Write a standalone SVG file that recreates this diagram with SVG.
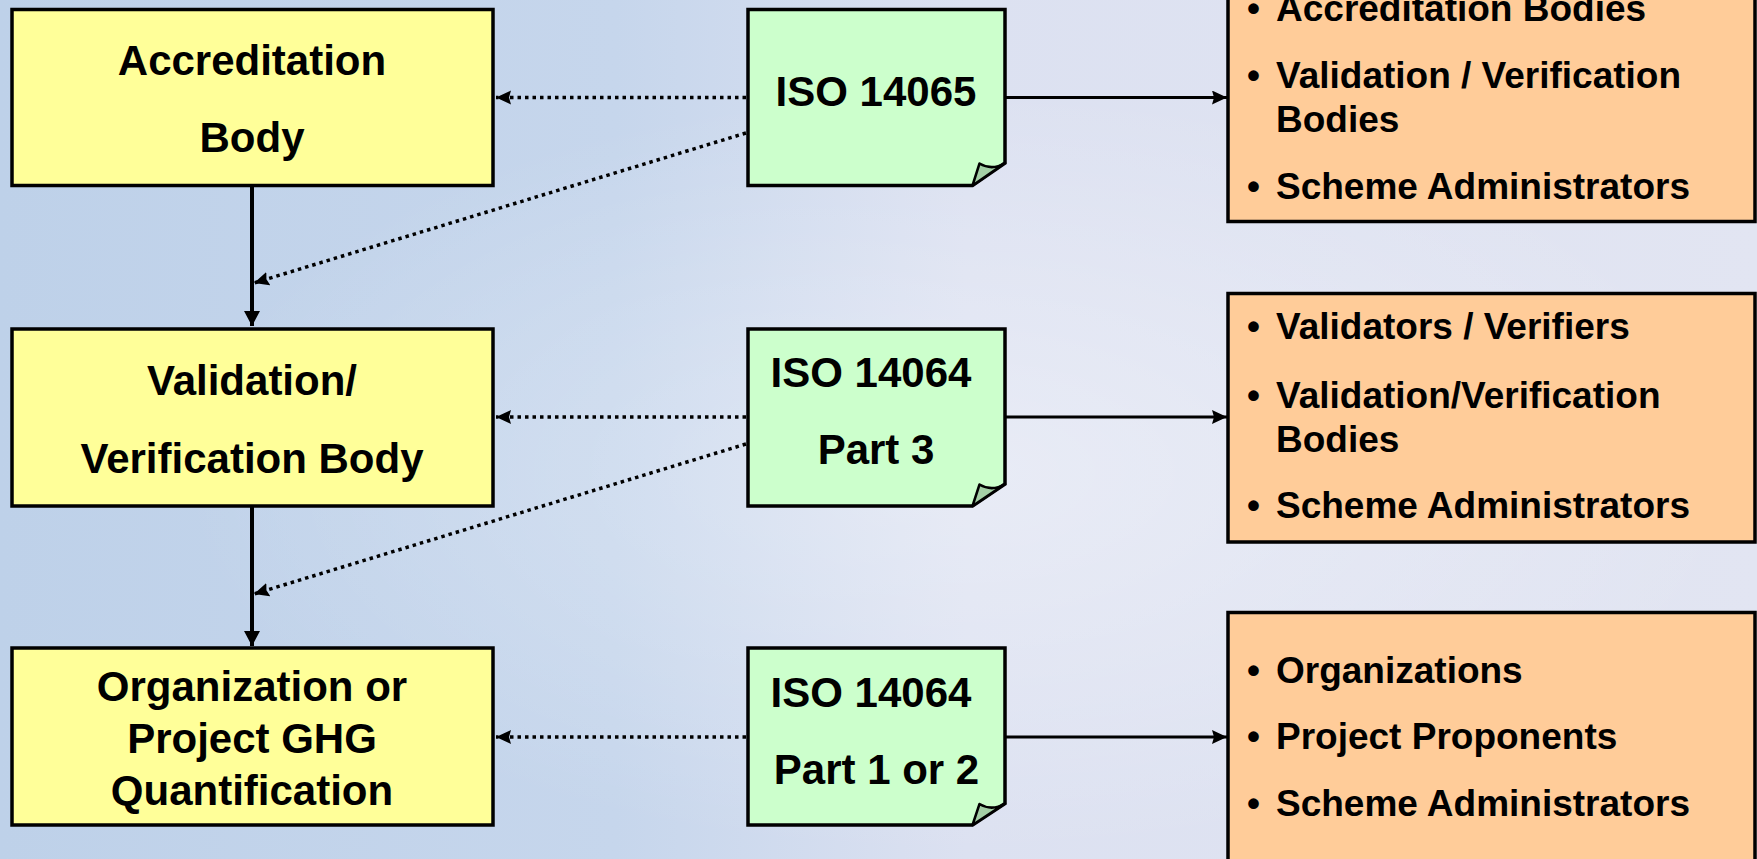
<svg xmlns="http://www.w3.org/2000/svg" width="1757" height="859" viewBox="0 0 1757 859">
<defs>
<linearGradient id="bg" x1="0" y1="0" x2="1" y2="0">
<stop offset="0" stop-color="#BED1E9"/>
<stop offset="0.35" stop-color="#C6D6EC"/>
<stop offset="0.55" stop-color="#DCE1F1"/>
<stop offset="1" stop-color="#E2E5F2"/>
</linearGradient>
<radialGradient id="cloud" cx="0.55" cy="0.55" r="0.45">
<stop offset="0" stop-color="#FFFFFF" stop-opacity="0.35"/>
<stop offset="1" stop-color="#FFFFFF" stop-opacity="0"/>
</radialGradient>
<marker id="ah" markerUnits="userSpaceOnUse" markerWidth="16" markerHeight="16" refX="15" refY="7" orient="auto">
<path d="M0,0 L15,7 L0,14 L2,7 Z" fill="#000"/>
</marker>
<marker id="av" markerUnits="userSpaceOnUse" markerWidth="17" markerHeight="17" refX="15" refY="8" orient="auto">
<path d="M0,0 L15,8 L0,16 Z" fill="#000"/>
</marker>
<style>
.yb{fill:#FFFF99;stroke:#000;stroke-width:3.5}
.gb{fill:#CCFFCC;stroke:#000;stroke-width:3.5;stroke-linejoin:miter}
.fold{fill:#A4CFA6;stroke:#000;stroke-width:2.5;stroke-linejoin:round}
.ob{fill:#FFCC99;stroke:#000;stroke-width:3.5}
.t{font-family:"Liberation Sans",Arial,sans-serif;font-weight:bold;font-size:42px;fill:#000;text-anchor:middle}
.o{font-family:"Liberation Sans",Arial,sans-serif;font-weight:bold;font-size:37px;fill:#000}
.solid{stroke:#000;stroke-width:4;fill:none}
.thin{stroke:#000;stroke-width:3;fill:none}
.dot{stroke:#000;stroke-width:3.5;fill:none;stroke-dasharray:3.5 4}
</style>
</defs>
<rect x="0" y="0" width="1757" height="859" fill="url(#bg)"/>
<rect x="0" y="0" width="1757" height="859" fill="url(#cloud)"/>

<g id="connectors">
<line class="solid" x1="252" y1="186" x2="252" y2="326" marker-end="url(#av)"/>
<line class="solid" x1="252" y1="506" x2="252" y2="646" marker-end="url(#av)"/>
<line class="dot" x1="746" y1="97.5" x2="496" y2="97.5" marker-end="url(#ah)"/>
<line class="dot" x1="746" y1="417" x2="496" y2="417" marker-end="url(#ah)"/>
<line class="dot" x1="746" y1="737" x2="496" y2="737" marker-end="url(#ah)"/>
<line class="dot" x1="746" y1="133" x2="254" y2="283" marker-end="url(#ah)"/>
<line class="dot" x1="746" y1="444" x2="254" y2="594" marker-end="url(#ah)"/>
<line class="thin" x1="1006" y1="97.5" x2="1227" y2="97.5" marker-end="url(#ah)"/>
<line class="thin" x1="1006" y1="417" x2="1227" y2="417" marker-end="url(#ah)"/>
<line class="thin" x1="1006" y1="737" x2="1227" y2="737" marker-end="url(#ah)"/>
</g>

<g id="accreditation-body">
<rect class="yb" x="12" y="9.5" width="481" height="176"/>
<text class="t" x="252" y="75">Accreditation</text>
<text class="t" x="252" y="152">Body</text>
</g>
<g id="vv-body">
<rect class="yb" x="12" y="329" width="481" height="177"/>
<text class="t" x="252" y="394.5">Validation/</text>
<text class="t" x="252" y="473">Verification Body</text>
</g>
<g id="ghg-quant">
<rect class="yb" x="12" y="648" width="481" height="177"/>
<text class="t" x="252" y="701">Organization or</text>
<text class="t" x="252" y="753">Project GHG</text>
<text class="t" x="252" y="804.5">Quantification</text>
</g>

<g id="iso14065">
<path class="gb" d="M748,9.5 H1005 V163 L972.5,185.5 H748 Z"/>
<path class="fold" d="M979.5,163.5 Q992,171 1005,163 L972.5,185.5 Z"/>
<text class="t" x="876" y="106">ISO 14065</text>
</g>
<g id="iso14064-3">
<path class="gb" d="M748,329 H1005 V484 L972.5,506 H748 Z"/>
<path class="fold" d="M979.5,484.5 Q992,492 1005,484 L972.5,506 Z"/>
<text class="t" x="871" y="386.5">ISO 14064</text>
<text class="t" x="876" y="464">Part 3</text>
</g>
<g id="iso14064-12">
<path class="gb" d="M748,648 H1005 V803.5 L972.5,825 H748 Z"/>
<path class="fold" d="M979.5,804 Q992,811.5 1005,803.5 L972.5,825 Z"/>
<text class="t" x="871" y="706.5">ISO 14064</text>
<text class="t" x="876.5" y="784">Part 1 or 2</text>
</g>

<g id="users-14065">
<rect class="ob" x="1228" y="-20" width="527" height="241.5"/>
<text class="o" x="1247" y="21">•</text><text class="o" x="1276" y="21">Accreditation Bodies</text>
<text class="o" x="1247" y="87.5">•</text><text class="o" x="1276" y="87.5">Validation / Verification</text>
<text class="o" x="1276" y="131.5">Bodies</text>
<text class="o" x="1247" y="199">•</text><text class="o" x="1276" y="199">Scheme Administrators</text>
</g>
<g id="users-14064-3">
<rect class="ob" x="1228" y="293.5" width="527" height="248.5"/>
<text class="o" x="1247" y="339">•</text><text class="o" x="1276" y="339">Validators / Verifiers</text>
<text class="o" x="1247" y="407.5">•</text><text class="o" x="1276" y="407.5">Validation/Verification</text>
<text class="o" x="1276" y="451.5">Bodies</text>
<text class="o" x="1247" y="518">•</text><text class="o" x="1276" y="518">Scheme Administrators</text>
</g>
<g id="users-14064-12">
<rect class="ob" x="1228" y="612.5" width="527" height="270"/>
<text class="o" x="1247" y="682.5">•</text><text class="o" x="1276" y="682.5">Organizations</text>
<text class="o" x="1247" y="749">•</text><text class="o" x="1276" y="749">Project Proponents</text>
<text class="o" x="1247" y="815.5">•</text><text class="o" x="1276" y="815.5">Scheme Administrators</text>
</g>
</svg>
